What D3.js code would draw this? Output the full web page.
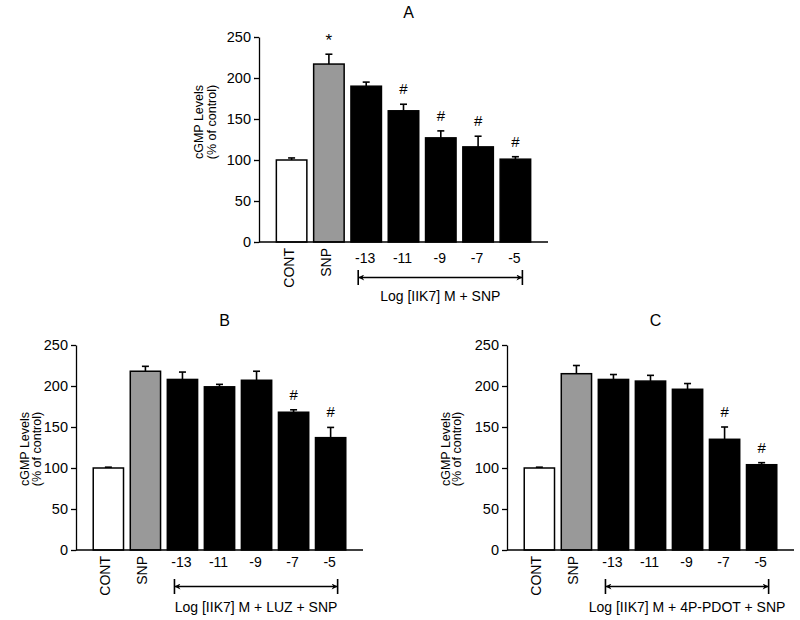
<!DOCTYPE html>
<html>
<head>
<meta charset="utf-8">
<script src="https://cdn.jsdelivr.net/npm/d3@7/dist/d3.min.js"></script>
<style>
  html, body { margin: 0; padding: 0; background: #fff; }
  svg { display: block; font-family: "Liberation Sans", Arial, sans-serif; }
</style>
</head>
<body>
<svg id="chart" width="800" height="620"></svg>
<script>
// ---------- data ----------
const categories = ["CONT", "SNP", "-13", "-11", "-9", "-7", "-5"];
const yTicks = [0, 50, 100, 150, 200, 250];

const valuesA = [100, 217, 190, 160, 127, 116, 101];
const errorsA = [2.5, 12, 5, 8, 8.5, 13, 3];
const marksA  = ["", "*", "", "#", "#", "#", "#"];

const valuesB = [100, 218, 208, 199, 207, 168, 137];
const errorsB = [1, 6, 9, 3, 11, 3, 12.5];
const marksB  = ["", "", "", "", "", "#", "#"];

const valuesC = [100, 215, 208, 206, 196, 135, 104];
const errorsC = [1, 10, 6, 7, 7, 15, 2.5];
const marksC  = ["", "", "", "", "", "#", "#"];

const titles = ["A", "B", "C"];
const xLabels = ["Log [IIK7] M + SNP", "Log [IIK7] M + LUZ + SNP", "Log [IIK7] M + 4P-PDOT + SNP"];
const yLabelLines = ["cGMP Levels", "(% of control)"];

// ---------- layout ----------
const panels = [
  { title: titles[0], values: valuesA, errors: errorsA, marks: marksA, xlab: xLabels[0],
    x0: 259, x1: 548, yTop: 37, yBot: 242, titleY: 18, tickY: 263, arrowY: 277.5, xlabY: 301,
    ylabX: [199, 211.5], ylabY: 122 },
  { title: titles[1], values: valuesB, errors: errorsB, marks: marksB, xlab: xLabels[1],
    x0: 76, x1: 363, yTop: 345, yBot: 550, titleY: 326, tickY: 566.5, arrowY: 586.5, xlabY: 612,
    ylabX: [25, 36.5], ylabY: 449 },
  { title: titles[2], values: valuesC, errors: errorsC, marks: marksC, xlab: xLabels[2],
    x0: 507, x1: 794, yTop: 345, yBot: 550, titleY: 326, tickY: 566.5, arrowY: 586.5, xlabY: 612,
    ylabX: [445.5, 457], ylabY: 449 }
];

const fills = ["#ffffff", "#999999", "#000000", "#000000", "#000000", "#000000", "#000000"];

const svg = d3.select("#chart");

// arrowhead marker
const defs = svg.append("defs");
defs.append("marker")
  .attr("id", "arr")
  .attr("viewBox", "0 0 10 10")
  .attr("refX", 10).attr("refY", 5)
  .attr("markerWidth", 8).attr("markerHeight", 6)
  .attr("markerUnits", "userSpaceOnUse")
  .attr("orient", "auto-start-reverse")
  .append("path").attr("d", "M0,0 L10,5 L0,10 L3,5 Z").attr("fill", "#000");

panels.forEach(p => {
  const g = svg.append("g");
  const x = d3.scaleBand().domain(categories).range([p.x0, p.x1])
    .paddingInner(0.142).paddingOuter(0.445);
  const y = d3.scaleLinear().domain([0, 250]).range([p.yBot, p.yTop]);

  // title
  g.append("text").attr("x", (p.x0 + p.x1) / 2 + 5).attr("y", p.titleY)
    .attr("text-anchor", "middle").attr("font-size", 16).text(p.title);

  // bars
  g.selectAll("rect.bar").data(p.values).join("rect")
    .attr("class", "bar")
    .attr("x", (d, i) => x(categories[i]) + 0.75)
    .attr("width", x.bandwidth() - 1.5)
    .attr("y", d => y(d))
    .attr("height", d => y(0) - y(d))
    .attr("fill", (d, i) => fills[i])
    .attr("stroke", "#000").attr("stroke-width", 1.5);

  // error bars (upper only)
  p.values.forEach((v, i) => {
    const cx = x(categories[i]) + x.bandwidth() / 2;
    const top = y(v + p.errors[i]);
    g.append("line").attr("x1", cx).attr("x2", cx).attr("y1", y(v)).attr("y2", top)
      .attr("stroke", "#000").attr("stroke-width", 1.6);
    g.append("line").attr("x1", cx - 3.5).attr("x2", cx + 3.5).attr("y1", top).attr("y2", top)
      .attr("stroke", "#000").attr("stroke-width", 1.6);
    const m = p.marks[i];
    if (m) {
      g.append("text").attr("x", cx).attr("y", top - (m === "*" ? 8 : 10))
        .attr("text-anchor", "middle").attr("font-size", m === "*" ? 17 : 15).text(m);
    }
  });

  // y axis
  const yAxis = d3.axisLeft(y).tickValues(yTicks).tickSize(5).tickPadding(3).tickSizeOuter(0);
  const ya = g.append("g").attr("transform", `translate(${p.x0},0)`).call(yAxis);
  ya.select(".domain").attr("stroke-width", 1.3);
  ya.selectAll(".tick line").attr("stroke-width", 1.3);
  ya.selectAll("text").attr("font-size", 14.5).attr("font-family", "'Liberation Sans', Arial, sans-serif");

  // x axis line
  g.append("line").attr("x1", p.x0).attr("x2", p.x1).attr("y1", y(0)).attr("y2", y(0))
    .attr("stroke", "#000").attr("stroke-width", 1.3);

  // x category labels
  categories.forEach((c, i) => {
    const cx = x(c) + x.bandwidth() / 2;
    if (i < 2) {
      g.append("text")
        .attr("transform", `translate(${cx - 3},${y(0) + 6}) rotate(-90)`)
        .attr("text-anchor", "end").attr("dy", "0.35em")
        .attr("font-size", 14).text(c);
    } else {
      g.append("text").attr("x", cx - 1).attr("y", p.tickY)
        .attr("text-anchor", "middle").attr("font-size", 14).text(c);
    }
  });

  // bracket arrow
  const ax0 = x(categories[2]) + x.bandwidth() / 2 - 8;
  const ax1 = x(categories[6]) + x.bandwidth() / 2 + 7;
  g.append("line").attr("x1", ax0).attr("x2", ax1).attr("y1", p.arrowY).attr("y2", p.arrowY)
    .attr("stroke", "#000").attr("stroke-width", 1.4)
    .attr("marker-start", "url(#arr)").attr("marker-end", "url(#arr)");
  [ax0, ax1].forEach(ax => {
    g.append("line").attr("x1", ax).attr("x2", ax).attr("y1", p.arrowY - 7.5).attr("y2", p.arrowY + 7.5)
      .attr("stroke", "#000").attr("stroke-width", 1.6);
  });
  g.append("text").attr("x", (ax0 + ax1) / 2).attr("y", p.xlabY)
    .attr("text-anchor", "middle").attr("font-size", 14).text(p.xlab);

  // y label
  yLabelLines.forEach((t, k) => {
    g.append("text")
      .attr("transform", `translate(${p.ylabX[k]},${p.ylabY}) rotate(-90)`)
      .attr("text-anchor", "middle").attr("dy", "0.35em")
      .attr("font-size", 12.5).text(t);
  });
});
</script>
</body>
</html>
